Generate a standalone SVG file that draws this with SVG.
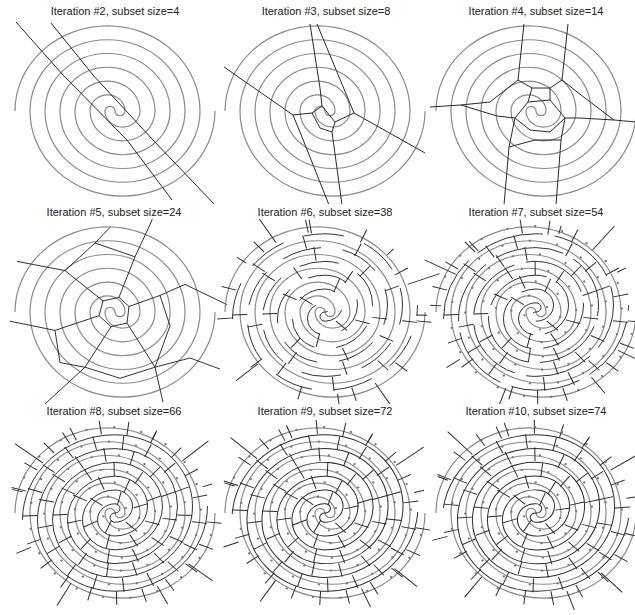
<svg xmlns="http://www.w3.org/2000/svg" width="635" height="615" viewBox="0 0 635 615">
<style>
.t{font-family:"Liberation Sans",Arial,sans-serif;font-size:11px;fill:#222;text-anchor:middle}
.sp{fill:none;stroke:#8a8a8a;stroke-width:1.2}
.v{fill:none;stroke:#2a2a2a;stroke-width:1}
.dt{fill:#777;stroke:none}
</style>
<defs>
<clipPath id="r1" clipPathUnits="userSpaceOnUse"><rect x="0" y="18" width="635" height="186"/></clipPath>
<clipPath id="r2" clipPathUnits="userSpaceOnUse"><rect x="0" y="219" width="635" height="185"/></clipPath>
<clipPath id="r3" clipPathUnits="userSpaceOnUse"><rect x="0" y="418" width="635" height="197"/></clipPath>
<path id="sp" d="M100,0A92.5,92.5 0 0 1-85,0A77.5,77.5 0 0 1 70,0A62.5,62.5 0 0 1-55,0A47.5,47.5 0 0 1 40,0A32.5,32.5 0 0 1-25,0A17.5,17.5 0 0 1 10,0A5,5 0 0 1 0,0A5,5 0 0 0-10,0A17.5,17.5 0 0 0 25,0A32.5,32.5 0 0 0-40,0A47.5,47.5 0 0 0 55,0A62.5,62.5 0 0 0-70,0A77.5,77.5 0 0 0 85,0A92.5,92.5 0 0 0-100,0"/>
<path id="mid" d="M-92.5,7.5A92.5,92.5 0 0 1 0,-85A77.5,77.5 0 0 1 0,70A62.5,62.5 0 0 1 0,-55A47.5,47.5 0 0 1 0,40A32.5,32.5 0 0 1 0,-25A17.5,17.5 0 0 1 0,10A5,5 0 0 1 0,0A5,5 0 0 0 0,-10A17.5,17.5 0 0 0 0,25A32.5,32.5 0 0 0 0,-40A47.5,47.5 0 0 0 0,55A62.5,62.5 0 0 0 0,-70A77.5,77.5 0 0 0 0,85A92.5,92.5 0 0 0 92.5,-7.5"/>
<line id="k" x1="-7.5" y1="0" x2="7.5" y2="0"/>
<circle id="d" cx="0" cy="0" r="1.2"/>
<g id="ts">
<use href="#k" transform="rotate(6)translate(99.5)"/>
<use href="#k" transform="rotate(38)translate(96.8)"/>
<use href="#k" transform="rotate(72)translate(94)"/>
<use href="#k" transform="rotate(106)translate(91.2)"/>
<use href="#k" transform="rotate(141)translate(88.2)"/>
<use href="#k" transform="rotate(178)translate(85.2)"/>
<use href="#k" transform="rotate(216)translate(82)"/>
<use href="#k" transform="rotate(255)translate(78.7)"/>
<use href="#k" transform="rotate(296)translate(75.3)"/>
<use href="#k" transform="rotate(339)translate(71.7)"/>
<use href="#k" transform="rotate(25)translate(67.9)"/>
<use href="#k" transform="rotate(72)translate(64)"/>
<use href="#k" transform="rotate(123)translate(59.7)"/>
<use href="#k" transform="rotate(178)translate(55.2)"/>
<use href="#k" transform="rotate(237)translate(50.2)"/>
<use href="#k" transform="rotate(302)translate(44.8)"/>
<use href="#k" transform="rotate(16)translate(38.7)"/>
<use href="#k" transform="rotate(103)translate(31.4)"/>
<use href="#k" transform="rotate(213)translate(22.2)"/>
</g>
<g id="tx">
<use href="#k" transform="rotate(22)translate(98.2)"/>
<use href="#k" transform="rotate(89)translate(92.6)"/>
<use href="#k" transform="rotate(159)translate(86.7)"/>
<use href="#k" transform="rotate(235)translate(80.4)"/>
<use href="#k" transform="rotate(318)translate(73.5)"/>
<use href="#k" transform="rotate(48)translate(66)"/>
<use href="#k" transform="rotate(150)translate(57.5)"/>
<use href="#k" transform="rotate(269)translate(47.6)"/>
<use href="#k" transform="rotate(58)translate(35.2)"/>
</g>
<g id="ty">
<use href="#k" transform="rotate(55)translate(95.4)"/>
<use href="#k" transform="rotate(124)translate(89.7)"/>
<use href="#k" transform="rotate(197)translate(83.6)"/>
<use href="#k" transform="rotate(276)translate(77)"/>
<use href="#k" transform="rotate(2)translate(69.8)"/>
<use href="#k" transform="rotate(97)translate(61.9)"/>
<use href="#k" transform="rotate(207)translate(52.7)"/>
<use href="#k" transform="rotate(338)translate(41.8)"/>
<use href="#k" transform="rotate(154)translate(27.2)"/>
<use href="#k" transform="rotate(285)translate(16.2)"/>
</g>
<g id="tb"><use href="#ts"/><use href="#tx"/><use href="#ty"/></g>
<g id="tm"><use href="#ts"/><use href="#tx"/></g>
<g id="db">
<use href="#d" transform="rotate(14)translate(98.8)"/>
<use href="#d" transform="rotate(30)translate(97.5)"/>
<use href="#d" transform="rotate(46.5)translate(96.1)"/>
<use href="#d" transform="rotate(63.5)translate(94.7)"/>
<use href="#d" transform="rotate(80.5)translate(93.3)"/>
<use href="#d" transform="rotate(97.5)translate(91.9)"/>
<use href="#d" transform="rotate(115)translate(90.4)"/>
<use href="#d" transform="rotate(132.5)translate(89)"/>
<use href="#d" transform="rotate(150)translate(87.5)"/>
<use href="#d" transform="rotate(168.5)translate(86)"/>
<use href="#d" transform="rotate(187.5)translate(84.4)"/>
<use href="#d" transform="rotate(206.5)translate(82.8)"/>
<use href="#d" transform="rotate(225.5)translate(81.2)"/>
<use href="#d" transform="rotate(245)translate(79.6)"/>
<use href="#d" transform="rotate(265.5)translate(77.9)"/>
<use href="#d" transform="rotate(286)translate(76.2)"/>
<use href="#d" transform="rotate(307)translate(74.4)"/>
<use href="#d" transform="rotate(328.5)translate(72.6)"/>
<use href="#d" transform="rotate(350.5)translate(70.8)"/>
<use href="#d" transform="rotate(13.5)translate(68.9)"/>
<use href="#d" transform="rotate(36.5)translate(67)"/>
<use href="#d" transform="rotate(60)translate(65)"/>
<use href="#d" transform="rotate(84.5)translate(62.9)"/>
<use href="#d" transform="rotate(110)translate(60.8)"/>
<use href="#d" transform="rotate(136.5)translate(58.6)"/>
<use href="#d" transform="rotate(164)translate(56.3)"/>
<use href="#d" transform="rotate(192.5)translate(54)"/>
<use href="#d" transform="rotate(222)translate(51.5)"/>
<use href="#d" transform="rotate(253)translate(48.9)"/>
<use href="#d" transform="rotate(285.5)translate(46.2)"/>
<use href="#d" transform="rotate(320)translate(43.3)"/>
<use href="#d" transform="rotate(357)translate(40.2)"/>
<use href="#d" transform="rotate(37)translate(36.9)"/>
<use href="#d" transform="rotate(80.5)translate(33.3)"/>
<use href="#d" transform="rotate(128.5)translate(29.3)"/>
<use href="#d" transform="rotate(183.5)translate(24.7)"/>
<use href="#d" transform="rotate(249)translate(19.2)"/>
<use href="#d" transform="rotate(334)translate(12.2)"/>
</g>
<g id="rays">
<line x1="90" x2="125" transform="rotate(-143)"/>
<line x1="88" x2="102" transform="rotate(-121)"/>
<line x1="88" x2="97" transform="rotate(-65)"/>
<line x1="88" x2="122" transform="rotate(-40)"/>
<line x1="92" x2="102" transform="rotate(-18)"/>
<line x1="92" x2="122" transform="rotate(37)"/>
<line x1="90" x2="112" transform="rotate(62)"/>
<line x1="88" x2="116" transform="rotate(120)"/>
<line x1="92" x2="108" transform="rotate(156)"/>
<line x1="95" x2="106" transform="rotate(-166)"/>
</g>
<g id="dense">
<use href="#mid"/>
<use href="#tb"/>
<use href="#tb" transform="rotate(189)"/>
<use href="#rays"/>
</g>
<g id="dots" class="dt">
<use href="#db"/>
<use href="#db" transform="rotate(189)"/>
</g>
</defs>

<g id="titles" class="t">
<text x="115" y="15">Iteration #2, subset size=4</text>
<text x="326" y="15">Iteration #3, subset size=8</text>
<text x="536" y="15">Iteration #4, subset size=14</text>
<text x="114" y="216">Iteration #5, subset size=24</text>
<text x="325" y="216">Iteration #6, subset size=38</text>
<text x="536" y="216">Iteration #7, subset size=54</text>
<text x="114" y="415">Iteration #8, subset size=66</text>
<text x="325" y="415">Iteration #9, subset size=72</text>
<text x="536" y="415">Iteration #10, subset size=74</text>
</g>

<g id="panel1" clip-path="url(#r1)">
<use href="#sp" class="sp" transform="translate(115,111) scale(1,0.92)"/>
<g class="v">
<polyline points="16,22 63,75 127,140 172,200"/>
<polyline points="51,23 93,75 153,140 214,204"/>
</g>
</g>

<g id="panel2" clip-path="url(#r1)">
<use href="#sp" class="sp" transform="translate(325,111) scale(1,0.92)"/>
<g class="v">
<polyline points="224,67 293,115 302,137 329,205"/>
<polyline points="293,115 312,113 322,106"/>
<polyline points="310,24 320,88 322,106 335,122"/>
<polyline points="317,24 354,113 425,153"/>
<polyline points="354,113 335,122 332,132 342,205"/>
<polyline points="312,113 320,128 332,132"/>
</g>
</g>

<g id="panel3" clip-path="url(#r1)">
<use href="#sp" class="sp" transform="translate(536,111) scale(1,0.92)"/>
<g class="v">
<polyline points="524,24 518,80 532,88 550,88 562,80 568,24"/>
<polyline points="430,107 461,105 490,102 518,80"/>
<polyline points="461,105 497,116 515,118"/>
<polyline points="562,80 581,95 614,120 636,122"/>
<polyline points="614,120 580,118 565,118"/>
<polyline points="504,205 509,147 535,140 561,140 556,205"/>
<polyline points="509,147 515,118 528,102 550,100 565,118 561,140"/>
<polyline points="515,118 530,130 550,132 565,118"/>
<polyline points="528,102 532,88"/>
<polyline points="550,100 550,88"/>
</g>
</g>

<g id="panel4" clip-path="url(#r2)">
<use href="#sp" class="sp" transform="translate(115,312) scale(1,0.92)"/>
<g class="v" transform="translate(115,312) scale(1,0.92)">
<polygon points="14,-6 4,-16 -12,-12 -16,4 -4,16 12,12"/>
<polyline points="14,-6 45,-18 70,-30 112,-8"/>
<polyline points="4,-16 20,-60 35,-95 40,-108"/>
<polyline points="-12,-12 -50,-45 -98,-55"/>
<polyline points="-16,4 -60,20 -105,10"/>
<polyline points="-4,16 -30,60 -70,100"/>
<polyline points="12,12 40,60 48,98"/>
<polyline points="40,60 75,50 105,62"/>
<polyline points="-50,-45 -20,-75 20,-60"/>
<polyline points="-60,20 -55,55 -30,60"/>
<polyline points="45,-18 55,15 40,60"/>
<polyline points="-30,60 5,72 40,60"/>
<polyline points="-20,-75 -5,-92"/>
</g>
</g>

<g id="panel5" clip-path="url(#r2)">
<use href="#sp" class="sp" transform="translate(325,312) scale(1,0.92)"/>
<g class="v" transform="translate(325,312) scale(1,0.92)">
<use href="#mid" style="stroke-dasharray:40 22"/>
<use href="#ts"/>
<use href="#ts" transform="rotate(189)"/>
<use href="#rays" transform="rotate(20)"/>
</g>
</g>

<g id="panel6" clip-path="url(#r2)">
<use href="#sp" class="sp" transform="translate(536,312) scale(1,0.92)"/>
<g class="v" transform="translate(536,312) scale(1,0.92)">
<use href="#mid" style="stroke-dasharray:70 12"/>
<use href="#tm"/>
<use href="#tm" transform="rotate(189)"/>
<use href="#rays" transform="rotate(-10)"/>
</g>
<use href="#dots" transform="translate(536,312) scale(1,0.92)"/>
</g>

<g id="panel7" clip-path="url(#r3)">
<use href="#sp" class="sp" transform="translate(115,513) scale(1,0.92)"/>
<use href="#dense" class="v" transform="translate(115,513) scale(1,0.92)"/>
<use href="#dots" transform="translate(115,513) scale(1,0.92)"/>
</g>

<g id="panel8" clip-path="url(#r3)">
<use href="#sp" class="sp" transform="translate(325,513) scale(1,0.92)"/>
<use href="#dense" class="v" transform="translate(325,513) scale(1,0.92) rotate(4)"/>
<use href="#dots" transform="translate(325,513) scale(1,0.92)"/>
</g>

<g id="panel9" clip-path="url(#r3)">
<use href="#sp" class="sp" transform="translate(536,513) scale(1,0.92)"/>
<use href="#dense" class="v" transform="translate(536,513) scale(1,0.92) rotate(8)"/>
<use href="#dots" transform="translate(536,513) scale(1,0.92)"/>
</g>
</svg>
